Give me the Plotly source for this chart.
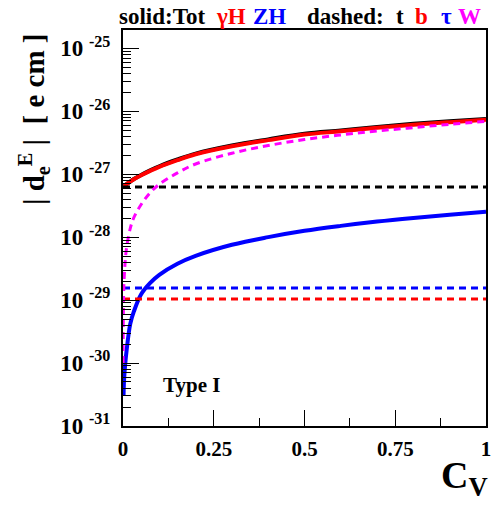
import plotly.graph_objects as go

# ---- data ----
cv = [0, 0.00015, 0.0015, 0.003, 0.006, 0.01, 0.02, 0.03, 0.05, 0.075, 0.1,
      0.15, 0.2, 0.3, 0.4, 0.5, 0.6, 0.7, 0.8, 0.9, 1.0]
tot = [6.3e-28, 6.3e-28, 6.35e-28, 6.45e-28, 6.65e-28, 6.97e-28, 7.64e-28, 8.37e-28,
       9.72e-28, 1.15e-27, 1.335e-27, 1.71e-27, 2.12e-27, 2.85e-27, 3.57e-27, 4.38e-27,
       4.95e-27, 5.63e-27, 6.3e-27, 6.93e-27, 7.55e-27]
gammaH = [6.3e-28, 6.3e-28, 6.35e-28, 6.45e-28, 6.65e-28, 6.95e-28, 7.6e-28, 8.3e-28,
          9.6e-28, 1.13e-27, 1.31e-27, 1.67e-27, 2.07e-27, 2.77e-27, 3.47e-27, 4.25e-27,
          4.8e-27, 5.45e-27, 6.1e-27, 6.7e-27, 7.3e-27]
zh = [None, None, 3.0e-31, 5.5e-31, 9.5e-31, 1.6e-30, 4.2e-30, 6.6e-30, 1.24e-29,
      1.88e-29, 2.52e-29, 3.78e-29, 5.04e-29, 7.56e-29, 1.0e-28, 1.26e-28, 1.51e-28,
      1.77e-28, 2.02e-28, 2.27e-28, 2.52e-28]
w = [None, 1.0e-30, 1.04e-29, 2.07e-29, 4.1e-29, 6.9e-29, 1.38e-28, 2.05e-28, 3.3e-28,
     5.1e-28, 6.9e-28, 1.05e-27, 1.45e-27, 2.15e-27, 2.85e-27, 3.55e-27, 4.2e-27,
     4.85e-27, 5.5e-27, 6.2e-27, 6.9e-27]
t_val = 6.24e-28
b_val = 1.045e-29
tau_val = 1.56e-29
x_ends = [0, 1]

x_ticks = [0, 0.25, 0.5, 0.75, 1]
x_labels = ["0", "0.25", "0.5", "0.75", "1"]
y_exps = [-31, -30, -29, -28, -27, -26, -25]
y_range = [-31, -24.71]

# header pieces: (text, colour, left position in x-paper units)
header = [("solid:Tot", "black", -0.016), ("γH", "#ff0000", 0.25), ("ZH", "#0000ff", 0.353),
          ("dashed:", "black", 0.5), ("t", "black", 0.747), ("b", "#ff0000", 0.799),
          ("τ", "#0000ff", 0.870), ("W", "#ff00ff", 0.916)]

FONT = "Liberation Serif"
DASH = "7px,5px"

fig = go.Figure()
fig.add_trace(go.Scatter(x=cv, y=tot, mode="lines", line=dict(color="black", width=4, shape="spline")))
fig.add_trace(go.Scatter(x=cv, y=gammaH, mode="lines", line=dict(color="#ff0000", width=4, shape="spline")))
fig.add_trace(go.Scatter(x=cv, y=zh, mode="lines", line=dict(color="#0000ff", width=4, shape="spline")))
for val, col in [(t_val, "black"), (b_val, "#ff0000"), (tau_val, "#0000ff")]:
    fig.add_trace(go.Scatter(x=x_ends, y=[val, val], mode="lines",
                             line=dict(color=col, width=3, dash=DASH)))
fig.add_trace(go.Scatter(x=cv, y=w, mode="lines",
                         line=dict(color="#ff00ff", width=3, dash=DASH, shape="spline")))

fig.update_layout(
    width=494, height=507,
    margin=dict(l=123, r=3, t=30, b=81),
    paper_bgcolor="white", plot_bgcolor="white",
    showlegend=False,
    font=dict(family=FONT, color="black"),
)
fig.update_xaxes(
    range=[0, 1.00001], showgrid=False, zeroline=False,
    showline=True, linecolor="black", linewidth=2, mirror=True,
    ticks="inside", ticklen=16, tickwidth=1, tickcolor="black",
    tickvals=x_ticks, ticktext=["<b>%s</b>" % s for s in x_labels],
    tickfont=dict(family=FONT, size=21, color="black"),
    ticklabelstandoff=3, ticklabeloverflow="allow",
    minor=dict(ticks="inside", ticklen=8, tickwidth=1, tickcolor="black", dtick=0.125, showgrid=False),
)
fig.update_yaxes(
    type="log", range=y_range, showgrid=False, zeroline=False,
    showline=True, linecolor="black", linewidth=2, mirror=True,
    ticks="inside", ticklen=16, tickwidth=1, tickcolor="black",
    tickvals=[10.0 ** e for e in y_exps],
    ticktext=["<b>10 <sup>%d</sup></b>" % e for e in y_exps],
    tickfont=dict(family=FONT, size=23, color="black"),
    ticklabelstandoff=6,
    minor=dict(ticks="inside", ticklen=8, tickwidth=1, tickcolor="black", dtick="D1", showgrid=False),
)

for txt, col, xpos in header:
    fig.add_annotation(
        xref="paper", yref="paper", x=xpos, y=1.033, xanchor="left", yanchor="middle",
        showarrow=False, text="<b>%s</b>" % txt,
        font=dict(family=FONT, size=23, color=col),
    )
fig.add_annotation(
    xref="paper", yref="paper", x=0.106, y=0.1035, xanchor="left", yanchor="middle",
    showarrow=False, text="<b>Type I</b>",
    font=dict(family=FONT, size=21, color="black"),
)
fig.add_annotation(
    xref="paper", yref="paper", x=-0.245, y=0.773, xanchor="center", yanchor="middle",
    textangle=-90, showarrow=False,
    text="<b>| d<sub>e</sub><sup>E</sup> |  [ e cm ]</b>",
    font=dict(family=FONT, size=29, color="black"),
)
fig.add_annotation(
    xref="paper", yref="paper", x=1.0, y=-0.131, xanchor="right", yanchor="middle",
    xshift=4, showarrow=False, text="<b>C<sub>V</sub></b>",
    font=dict(family=FONT, size=38, color="black"),
)

fig.write_html("out.html")
